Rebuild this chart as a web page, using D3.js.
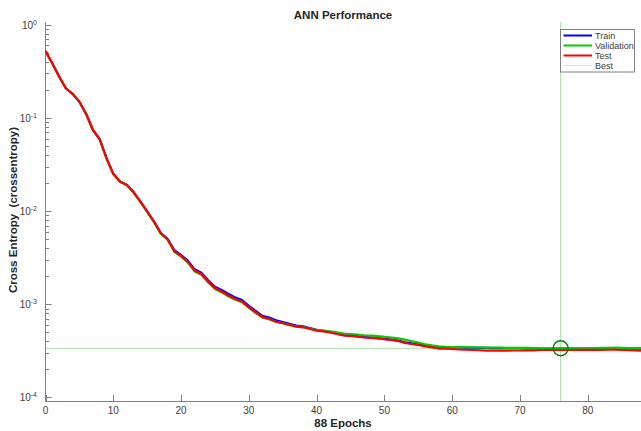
<!DOCTYPE html>
<html>
<head>
<meta charset="utf-8">
<script src="https://cdn.jsdelivr.net/npm/d3@7"></script>
<style>
  html, body { margin: 0; padding: 0; background: #fff; }
  svg { display: block; font-family: "Liberation Sans", Arial, sans-serif; }
</style>
</head>
<body>
<div id="chart-area"></div>
<script>
// values (one per epoch, 0..88)
const trainVals = [0.522,0.386,0.279,0.208,0.181,0.149,0.110,0.0742,0.0590,0.0370,
  0.0251,0.0208,0.0192,0.0160,0.0127,0.00990,0.00775,0.00585,0.00505,0.00382,
  0.00338,0.00294,0.00237,0.00218,0.00181,0.00154,0.00142,0.00129,0.00118,0.00111,
  0.000962,0.000850,0.000752,0.000720,0.000672,0.000645,0.000618,0.000592,0.000580,0.000556,
  0.000532,0.000518,0.000502,0.000484,0.000466,0.000459,0.000453,0.000443,0.000438,0.000433,
  0.000425,0.000418,0.000408,0.000390,0.000380,0.000372,0.000362,0.000356,0.000350,0.000348,
  0.000346,0.000344,0.000343,0.000342,0.000341,0.000340,0.000339,0.000339,0.000338,0.000338,
  0.000338,0.000337,0.000337,0.000337,0.000337,0.000337,0.000337,0.000336,0.000336,0.000336,
  0.000336,0.000337,0.000337,0.000337,0.000336,0.000335,0.000335,0.000334,0.000334];
const validationVals = [0.522,0.385,0.278,0.208,0.181,0.149,0.110,0.0740,0.0588,0.0368,
  0.0249,0.0206,0.0190,0.0158,0.0125,0.00980,0.00762,0.00572,0.00492,0.00366,
  0.00324,0.00280,0.00225,0.00207,0.00171,0.00146,0.00134,0.00121,0.00112,0.00105,
  0.000915,0.000810,0.000718,0.000690,0.000648,0.000625,0.000602,0.000580,0.000570,0.000550,
  0.000530,0.000522,0.000512,0.000500,0.000486,0.000480,0.000474,0.000465,0.000460,0.000455,
  0.000448,0.000440,0.000430,0.000418,0.000402,0.000388,0.000372,0.000362,0.000354,0.000350,
  0.000348,0.000347,0.000346,0.000345,0.000344,0.000343,0.000343,0.000342,0.000341,0.000341,
  0.000340,0.000340,0.000339,0.000339,0.000338,0.000338,0.000337,0.000338,0.000338,0.000339,
  0.000339,0.000339,0.000340,0.000341,0.000342,0.000340,0.000339,0.000338,0.000338];
const testVals = [0.522,0.385,0.278,0.208,0.181,0.149,0.110,0.0741,0.0589,0.0369,
  0.0250,0.0207,0.0191,0.0159,0.0126,0.00986,0.00769,0.00578,0.00498,0.00373,
  0.00330,0.00286,0.00230,0.00211,0.00175,0.00149,0.00137,0.00124,0.00114,0.00107,
  0.000929,0.000821,0.000726,0.000696,0.000650,0.000625,0.000600,0.000575,0.000566,0.000543,
  0.000521,0.000511,0.000498,0.000480,0.000462,0.000457,0.000451,0.000440,0.000435,0.000430,
  0.000421,0.000414,0.000404,0.000384,0.000375,0.000366,0.000352,0.000344,0.000335,0.000333,
  0.000331,0.000327,0.000325,0.000323,0.000321,0.000318,0.000318,0.000319,0.000318,0.000319,
  0.000319,0.000320,0.000320,0.000323,0.000323,0.000323,0.000323,0.000323,0.000323,0.000324,
  0.000324,0.000325,0.000323,0.000325,0.000326,0.000323,0.000321,0.000319,0.000318];
const bestEpoch = 76;
const bestValue = 0.000337;
const xTicks = [0, 10, 20, 30, 40, 50, 60, 70, 80];
const yTicks = [1e-4, 1e-3, 1e-2, 1e-1, 1];
const yTickExp = ["-4", "-3", "-2", "-1", "0"];
const seriesNames = ["Train", "Validation", "Test", "Best"];

const W = 641, H = 431;
const pLeft = 45.5, pRight = 642, pTop = 22, pBottom = 401;
const axisColor = "#808080", textColor = "#404040";

const svg = d3.select("#chart-area").append("svg")
  .attr("width", W)
  .attr("height", H);

const x = d3.scaleLinear().domain([0, 88]).range([pLeft, pRight]);
const y = d3.scaleLog().domain([Math.pow(10, -4.038), Math.pow(10, 0.029)]).range([pBottom, pTop]);

svg.append("clipPath").attr("id", "clip")
  .append("rect").attr("x", pLeft).attr("y", pTop).attr("width", pRight - pLeft).attr("height", pBottom - pTop);

// minor ticks on log axis
const minor = [];
for (let e = -5; e <= 0; e++) {
  for (let k = 2; k <= 9; k++) {
    const v = k * Math.pow(10, e);
    if (v >= y.domain()[0] && v <= y.domain()[1]) minor.push(v);
  }
}
svg.append("g").selectAll("line").data(minor).enter().append("line")
  .attr("x1", pLeft).attr("x2", pLeft + 3.5)
  .attr("y1", d => Math.round(y(d)) + 0.5).attr("y2", d => Math.round(y(d)) + 0.5)
  .attr("stroke", axisColor).attr("stroke-width", 1);

svg.append("g").selectAll("line").data(yTicks).enter().append("line")
  .attr("x1", pLeft).attr("x2", pLeft + 6)
  .attr("y1", d => Math.round(y(d)) + 0.5).attr("y2", d => Math.round(y(d)) + 0.5)
  .attr("stroke", axisColor).attr("stroke-width", 1);

const yl = svg.append("g").selectAll("text").data(yTicks).enter().append("text")
  .attr("x", 37).attr("y", d => y(d) + 4)
  .attr("text-anchor", "end")
  .attr("font-size", 10).attr("fill", textColor);
yl.append("tspan").text("10");
yl.append("tspan").attr("dy", -4).attr("font-size", 7).text((d, i) => yTickExp[i]);

svg.append("g").selectAll("line").data(xTicks).enter().append("line")
  .attr("x1", d => Math.round(x(d)) + 0.5).attr("x2", d => Math.round(x(d)) + 0.5)
  .attr("y1", pBottom).attr("y2", pBottom - 6)
  .attr("stroke", axisColor).attr("stroke-width", 1);

svg.append("g").selectAll("text").data(xTicks).enter().append("text")
  .attr("x", d => x(d)).attr("y", 414)
  .attr("text-anchor", "middle")
  .attr("font-size", 10).attr("fill", textColor)
  .text(d => d);

svg.append("line").attr("x1", pLeft).attr("x2", pLeft).attr("y1", pTop).attr("y2", pBottom + 0.5)
  .attr("stroke", axisColor);
svg.append("line").attr("x1", pLeft).attr("x2", W).attr("y1", pBottom + 0.5).attr("y2", pBottom + 0.5)
  .attr("stroke", axisColor);

const plot = svg.append("g").attr("clip-path", "url(#clip)");

// best lines
plot.append("line")
  .attr("x1", pLeft).attr("x2", pRight)
  .attr("y1", y(bestValue)).attr("y2", y(bestValue))
  .attr("stroke", "#a8dca8").attr("stroke-width", 1);
plot.append("line")
  .attr("x1", x(bestEpoch)).attr("x2", x(bestEpoch))
  .attr("y1", pTop).attr("y2", pBottom)
  .attr("stroke", "#a8dca8").attr("stroke-width", 1);

const line = d3.line().x((d, i) => x(i)).y(d => y(d));
const series = [
  { vals: trainVals, color: "#0000ff" },
  { vals: validationVals, color: "#00cc00" },
  { vals: testVals, color: "#ff0000" }
];
series.forEach(s => {
  plot.append("path").datum(s.vals)
    .attr("d", line)
    .attr("fill", "none")
    .attr("stroke", s.color)
    .attr("stroke-width", 2.2)
    .attr("stroke-linejoin", "round");
});

plot.append("circle")
  .attr("cx", x(bestEpoch)).attr("cy", y(bestValue)).attr("r", 7.5)
  .attr("fill", "none").attr("stroke", "#008000").attr("stroke-width", 1.5);

// title and labels
svg.append("text").attr("x", 343).attr("y", 19).attr("text-anchor", "middle")
  .attr("font-size", 11.5).attr("font-weight", "bold").attr("fill", "#262626")
  .text("ANN Performance");
svg.append("text").attr("x", 343).attr("y", 427).attr("text-anchor", "middle")
  .attr("font-size", 11.5).attr("font-weight", "bold").attr("fill", "#262626")
  .text("88 Epochs");
svg.append("text")
  .attr("transform", "translate(17,210) rotate(-90)")
  .attr("text-anchor", "middle")
  .attr("font-size", 11.5).attr("font-weight", "bold").attr("fill", "#262626")
  .attr("xml:space", "preserve")
  .text("Cross Entropy  (crossentropy)");

// legend
const lg = svg.append("g");
lg.append("rect").attr("x", 560.5).attr("y", 29.5).attr("width", 74).attr("height", 42.5)
  .attr("fill", "#fff").attr("stroke", axisColor).attr("stroke-width", 1);
const legColors = ["#0000ff", "#00cc00", "#ff0000", "#c8e8c8"];
const legWidths = [2, 2, 2, 1];
seriesNames.forEach((name, i) => {
  const yy = 35.5 + i * 10;
  lg.append("line").attr("x1", 563.5).attr("x2", 592).attr("y1", yy).attr("y2", yy)
    .attr("stroke", legColors[i]).attr("stroke-width", legWidths[i]);
  lg.append("text").attr("x", 595).attr("y", yy + 3.3)
    .attr("font-size", 9).attr("fill", textColor).text(name);
});
</script>
</body>
</html>
